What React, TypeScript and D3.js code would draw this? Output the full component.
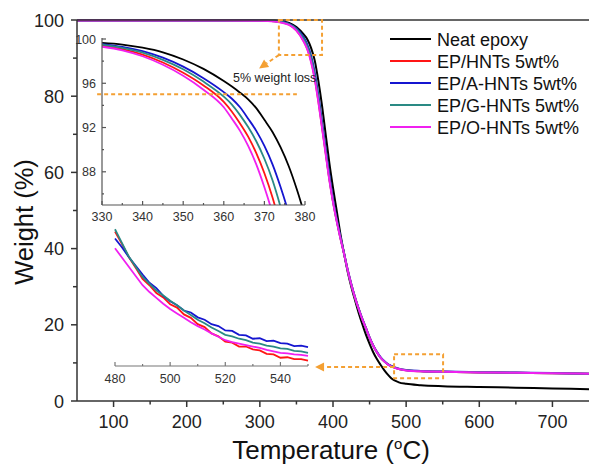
import React from 'react';
import * as d3 from 'd3';

// ---------- main TGA curves ----------
const mainTemps = [50, 100, 150, 200, 250, 300, 320, 330, 340, 350, 360, 365, 370, 375, 380, 385, 390, 395, 400, 405, 410, 415, 420, 425, 430, 435, 440, 445, 450, 455, 460, 465, 470, 475, 480, 490, 500, 520, 550, 600, 650, 700, 750];
const neatEpoxy = [100, 100, 100, 100, 100, 99.95, 99.85, 99.65, 99.22, 98.15, 96.2, 94.9, 92.7, 89.4, 84.0, 77.5, 70.0, 62.5, 56, 50, 44, 38.8, 34, 30, 26.5, 23.2, 20.2, 17.4, 15, 12.8, 11, 9.5, 8.1, 6.9, 5.9, 4.9, 4.5, 4.15, 3.9, 3.7, 3.5, 3.3, 3.1];
const epHNTs = [99.9, 99.9, 99.9, 99.9, 99.9, 99.85, 99.7, 99.42, 98.8, 97.3, 94.5, 92.4, 89.3, 84.8, 78.8, 72.0, 65.2, 58.3, 52.4, 47.4, 42.9, 38.8, 34.4, 30.6, 27.2, 24.2, 21.5, 19.1, 16.6, 14.5, 12.8, 11.4, 10.4, 9.6, 9.1, 8.4, 8.05, 7.8, 7.65, 7.5, 7.4, 7.3, 7.15];
const epAHNTs = [99.9, 99.9, 99.9, 99.9, 99.9, 99.85, 99.72, 99.5, 99.0, 97.8, 95.4, 93.5, 90.6, 86.2, 80.2, 73.2, 66.2, 59.2, 53.0, 47.8, 43.2, 38.9, 34.5, 30.7, 27.3, 24.3, 21.6, 19.2, 16.7, 14.6, 12.9, 11.5, 10.5, 9.7, 9.2, 8.5, 8.15, 7.9, 7.72, 7.55, 7.45, 7.32, 7.18];
const epGHNTs = [99.9, 99.9, 99.9, 99.9, 99.9, 99.85, 99.7, 99.45, 98.9, 97.6, 95.0, 93.0, 90.0, 85.5, 79.5, 72.5, 65.5, 58.5, 52.5, 47.5, 43.0, 38.8, 34.4, 30.6, 27.2, 24.2, 21.5, 19.1, 16.6, 14.5, 12.8, 11.4, 10.4, 9.6, 9.1, 8.4, 8.08, 7.82, 7.68, 7.52, 7.42, 7.31, 7.16];
const epOHNTs = [99.88, 99.88, 99.88, 99.88, 99.88, 99.8, 99.62, 99.3, 98.7, 97.2, 94.3, 92.2, 89.0, 84.5, 78.5, 71.7, 64.8, 58.0, 52.2, 47.2, 42.8, 38.7, 34.4, 30.6, 27.2, 24.2, 21.5, 19.1, 16.6, 14.5, 12.8, 11.4, 10.4, 9.6, 9.05, 8.38, 8.03, 7.8, 7.65, 7.5, 7.4, 7.3, 7.15];

// ---------- inset 1 (5% weight loss region) ----------
const zoomTemps = [330, 335, 340, 345, 350, 355, 360, 362, 364, 366, 368, 370, 372, 374, 376, 378, 380];
const zoomNeat = [99.65, 99.5, 99.22, 98.8, 98.15, 97.3, 96.2, 95.7, 95.15, 94.55, 93.75, 92.7, 91.6, 90.2, 88.5, 86.4, 84.0];
const zoomHNTs = [99.41, 99.09, 98.59, 97.88, 96.95, 95.8, 94.31, 93.43, 92.37, 91.18, 89.69, 87.87, 85.68, 83.0, 80.0, 77.0, 74.0];
const zoomAHNTs = [99.54, 99.29, 98.9, 98.31, 97.5, 96.46, 95.2, 94.6, 93.83, 92.8, 91.7, 90.34, 88.67, 86.6, 84.24, 81.5, 78.5];
const zoomGHNTs = [99.49, 99.2, 98.77, 98.12, 97.26, 96.15, 94.79, 94.07, 93.12, 92.04, 90.76, 89.18, 87.24, 84.8, 82.0, 79.0, 76.0];
const zoomOHNTs = [99.3, 98.98, 98.44, 97.67, 96.68, 95.42, 93.83, 92.8, 91.7, 90.34, 88.67, 86.6, 84.24, 81.5, 78.5, 75.5, 72.5];

// ---------- inset 2 (char residue region) ----------
const tailTemps = [480, 482.5, 485, 487.5, 490, 492.5, 495, 497.5, 500, 502.5, 505, 507.5, 510, 512.5, 515, 517.5, 520, 522.5, 525, 527.5, 530, 532.5, 535, 537.5, 540, 542.5, 545, 547.5, 550];
const tailHNTs = [9.76, 9.51, 9.24, 9.02, 8.79, 8.66, 8.50, 8.41, 8.27, 8.20, 8.06, 7.99, 7.86, 7.80, 7.67, 7.61, 7.50, 7.48, 7.40, 7.40, 7.34, 7.32, 7.25, 7.24, 7.17, 7.18, 7.14, 7.14, 7.11];
const tailAHNTs = [9.62, 9.44, 9.24, 9.06, 8.88, 8.71, 8.60, 8.44, 8.33, 8.25, 8.14, 8.10, 8.00, 7.95, 7.86, 7.82, 7.73, 7.72, 7.64, 7.63, 7.56, 7.57, 7.51, 7.52, 7.47, 7.46, 7.41, 7.42, 7.39];
const tailGHNTs = [9.81, 9.53, 9.25, 9.04, 8.83, 8.69, 8.55, 8.45, 8.34, 8.25, 8.14, 8.05, 7.95, 7.88, 7.79, 7.72, 7.64, 7.61, 7.56, 7.53, 7.48, 7.46, 7.42, 7.40, 7.36, 7.35, 7.31, 7.30, 7.27];
const tailOHNTs = [9.42, 9.23, 9.04, 8.85, 8.66, 8.52, 8.40, 8.28, 8.17, 8.08, 7.99, 7.90, 7.82, 7.75, 7.67, 7.60, 7.53, 7.49, 7.46, 7.43, 7.40, 7.37, 7.33, 7.30, 7.27, 7.26, 7.24, 7.23, 7.21];

const seriesNames = ['Neat epoxy', 'EP/HNTs 5wt%', 'EP/A-HNTs 5wt%', 'EP/G-HNTs 5wt%', 'EP/O-HNTs 5wt%'];
const seriesColors = ['#000000', '#ff1515', '#1515d0', '#2a8a84', '#f020f0'];

const mainXTicks = [100, 200, 300, 400, 500, 600, 700];
const mainXMinor = [150, 250, 350, 450, 550, 650];
const mainYTicks = [0, 20, 40, 60, 80, 100];
const mainYMinor = [10, 30, 50, 70, 90];
const zoomXTicks = [330, 340, 350, 360, 370, 380];
const zoomXMinor = [335, 345, 355, 365, 375];
const zoomYTicks = [88, 92, 96, 100];
const zoomYMinor = [86, 90, 94, 98];
const tailXTicks = [480, 500, 520, 540];
const tailXMinor = [490, 510, 530, 550];

// annotation anchors in data units
const topBox = { t0: 326, t1: 385, w0: 90.8, w1: 100 };
const topArrow = { t0: 326, w0: 90.8, t1: 299, w1: 87.3 };
const bottomBox = { t0: 483.5, t1: 550.5, w0: 6.0, w1: 12.3 };
const bottomArrow = { t0: 483.5, w0: 8.9, t1: 375.5, w1: 8.9 };
const lossLevel = 95;

const FONT = "Arial, 'Liberation Sans', Helvetica, sans-serif";
const ORANGE = '#f4a033';
const AXIS = '#333';

export default function App() {
  const W = 589, H = 466;
  const x = d3.scaleLinear().domain([50, 750]).range([77, 589]);
  const y = d3.scaleLinear().domain([0, 100]).range([401, 20]);
  const zx = d3.scaleLinear().domain([330, 380]).range([102, 305]);
  const zy = d3.scaleLinear().domain([85, 100]).range([205, 39]);
  const tx = d3.scaleLinear().domain([480, 550]).range([115, 308]);
  const ty = d3.scaleLinear().domain([7, 10]).range([366, 220]);

  const mainSeries = [neatEpoxy, epHNTs, epAHNTs, epGHNTs, epOHNTs];
  const zoomSeries = [zoomNeat, zoomHNTs, zoomAHNTs, zoomGHNTs, zoomOHNTs];
  const tailSeries = [tailHNTs, tailAHNTs, tailGHNTs, tailOHNTs];

  const mainLine = d3.line<number>().x((_, i) => x(mainTemps[i])).y(d => y(d)).curve(d3.curveMonotoneX);
  const zoomLine = d3.line<number>().x((_, i) => zx(zoomTemps[i])).y(d => zy(d)).curve(d3.curveMonotoneX);
  const tailLine = d3.line<number>().x((_, i) => tx(tailTemps[i])).y(d => ty(d));

  const arrow = (x1: number, y1: number, x2: number, y2: number, key: string) => {
    const dx = x2 - x1, dy = y2 - y1;
    const len = Math.hypot(dx, dy);
    const ux = dx / len, uy = dy / len;
    const hl = 9, hw = 4.5;
    const bx = x2 - ux * hl, by = y2 - uy * hl;
    const px = -uy, py = ux;
    const tri = `M${x2},${y2}L${bx + px * hw},${by + py * hw}L${bx - px * hw},${by - py * hw}Z`;
    return (
      <g key={key}>
        <line x1={x1} y1={y1} x2={bx} y2={by} stroke={ORANGE} strokeWidth={2} strokeDasharray="4,3" />
        <path d={tri} fill={ORANGE} />
      </g>
    );
  };

  return (
    <svg width={W} height={H} style={{ position: 'absolute', left: 0, top: 0, background: '#fff' }} fontFamily={FONT}>
      <defs>
        <clipPath id="mainClip"><rect x={77} y={18} width={512} height={383} /></clipPath>
        <clipPath id="zoomClip"><rect x={102} y={37} width={204} height={168} /></clipPath>
      </defs>

      {/* main curves */}
      <g clipPath="url(#mainClip)">
        {mainSeries.map((s, i) => (
          <path key={i} d={mainLine(s) || ''} fill="none" stroke={seriesColors[i]} strokeWidth={2} />
        ))}
      </g>

      {/* main frame & axes */}
      <line x1={77} y1={20} x2={589} y2={20} stroke={AXIS} strokeWidth={1.5} />
      <line x1={77} y1={20} x2={77} y2={401} stroke={AXIS} strokeWidth={1.5} />
      <line x1={77} y1={401} x2={589} y2={401} stroke={AXIS} strokeWidth={1.5} />
      {mainXTicks.map(t => (
        <g key={'xt' + t}>
          <line x1={x(t)} x2={x(t)} y1={401} y2={407} stroke={AXIS} strokeWidth={1.5} />
          <text x={x(t)} y={428} fontSize={18} textAnchor="middle" fill="#222">{t}</text>
        </g>
      ))}
      {mainXMinor.map(t => (
        <line key={'xm' + t} x1={x(t)} x2={x(t)} y1={401} y2={404.5} stroke={AXIS} strokeWidth={1.5} />
      ))}
      {mainYTicks.map(t => (
        <g key={'yt' + t}>
          <line x1={71} x2={77} y1={y(t)} y2={y(t)} stroke={AXIS} strokeWidth={1.5} />
          <text x={64} y={y(t) + 6.5} fontSize={18} textAnchor="end" fill="#222">{t}</text>
        </g>
      ))}
      {mainYMinor.map(t => (
        <line key={'ym' + t} x1={73} x2={77} y1={y(t)} y2={y(t)} stroke={AXIS} strokeWidth={1.5} />
      ))}

      <text x={331} y={459} fontSize={26} textAnchor="middle" fill="#111">
        Temperature (<tspan fontSize={15} dy={-10}>o</tspan><tspan dy={10}>C)</tspan>
      </text>
      <text transform="translate(33,222) rotate(-90)" fontSize={25.5} textAnchor="middle" fill="#111">Weight (%)</text>

      {/* legend */}
      {seriesNames.map((n, i) => (
        <g key={'lg' + i}>
          <line x1={390} x2={431} y1={39 + i * 22} y2={39 + i * 22} stroke={seriesColors[i]} strokeWidth={2} />
          <text x={437} y={39 + i * 22 + 6.5} fontSize={18} fill="#111">{n}</text>
        </g>
      ))}

      {/* inset 1 */}
      <g clipPath="url(#zoomClip)">
        {zoomSeries.map((s, i) => (
          <path key={i} d={zoomLine(s) || ''} fill="none" stroke={seriesColors[i]} strokeWidth={1.8} />
        ))}
      </g>
      <line x1={102} y1={38} x2={102} y2={205} stroke="#555" strokeWidth={1.2} />
      <line x1={102} y1={205} x2={305} y2={205} stroke="#555" strokeWidth={1.2} />
      {zoomXTicks.map(t => (
        <g key={'zx' + t}>
          <line x1={zx(t)} x2={zx(t)} y1={205} y2={201} stroke="#555" strokeWidth={1.2} />
          <text x={zx(t)} y={221} fontSize={12.5} textAnchor="middle" fill="#333">{t}</text>
        </g>
      ))}
      {zoomXMinor.map(t => (
        <line key={'zxm' + t} x1={zx(t)} x2={zx(t)} y1={205} y2={203} stroke="#555" strokeWidth={1.2} />
      ))}
      {zoomYTicks.map(t => (
        <g key={'zy' + t}>
          <line x1={102} x2={106} y1={zy(t)} y2={zy(t)} stroke="#555" strokeWidth={1.2} />
          <text x={96} y={zy(t) + 4.5} fontSize={12.5} textAnchor="end" fill="#333">{t}</text>
        </g>
      ))}
      {zoomYMinor.map(t => (
        <line key={'zym' + t} x1={102} x2={104} y1={zy(t)} y2={zy(t)} stroke="#555" strokeWidth={1.2} />
      ))}
      <line x1={zx(328.8)} x2={zx(378)} y1={zy(lossLevel)} y2={zy(lossLevel)} stroke={ORANGE} strokeWidth={2} strokeDasharray="4,3" />
      <text x={233} y={82} fontSize={12.5} fill="#222">5% weight loss</text>

      {/* inset 2 */}
      {tailSeries.map((s, i) => (
        <path key={i} d={tailLine(s) || ''} fill="none" stroke={seriesColors[i + 1]} strokeWidth={1.8} />
      ))}
      <line x1={115} y1={366} x2={308} y2={366} stroke="#777" strokeWidth={1.2} />
      {tailXTicks.map(t => (
        <g key={'tx' + t}>
          <line x1={tx(t)} x2={tx(t)} y1={366} y2={362} stroke="#777" strokeWidth={1.2} />
          <text x={tx(t)} y={383} fontSize={12.5} textAnchor="middle" fill="#333">{t}</text>
        </g>
      ))}
      {tailXMinor.map(t => (
        <line key={'txm' + t} x1={tx(t)} x2={tx(t)} y1={366} y2={364} stroke="#777" strokeWidth={1.2} />
      ))}

      {/* annotations */}
      <rect x={x(topBox.t0)} y={y(topBox.w1)} width={x(topBox.t1) - x(topBox.t0)} height={y(topBox.w0) - y(topBox.w1)}
        fill="none" stroke={ORANGE} strokeWidth={2} strokeDasharray="4,3" />
      {arrow(x(topArrow.t0), y(topArrow.w0), x(topArrow.t1), y(topArrow.w1), 'a1')}
      <rect x={x(bottomBox.t0)} y={y(bottomBox.w1)} width={x(bottomBox.t1) - x(bottomBox.t0)} height={y(bottomBox.w0) - y(bottomBox.w1)}
        fill="none" stroke={ORANGE} strokeWidth={2} strokeDasharray="4,3" />
      {arrow(x(bottomArrow.t0), y(bottomArrow.w0), x(bottomArrow.t1), y(bottomArrow.w1), 'a2')}
    </svg>
  );
}
